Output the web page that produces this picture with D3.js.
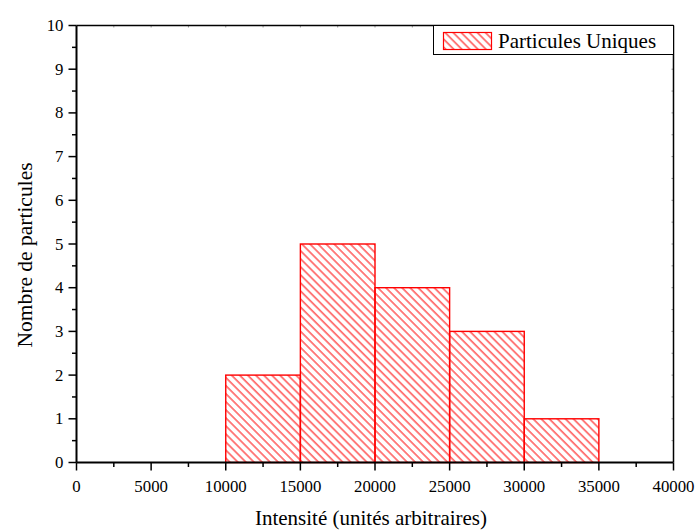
<!DOCTYPE html>
<html>
<head>
<meta charset="utf-8">
<script src="https://cdn.jsdelivr.net/npm/d3@7"></script>
<style>
  body { margin: 0; background: #fff; }
  svg text { font-family: "Liberation Serif", "Times New Roman", serif; fill: #000; }
</style>
</head>
<body>
<div id="chart"></div>
<script>
// histogram bins (intensity) and counts
var binStart = [10000, 15000, 20000, 25000, 30000];
var binEnd   = [15000, 20000, 25000, 30000, 35000];
var counts   = [2, 5, 4, 3, 1];
var xTicks = [0, 5000, 10000, 15000, 20000, 25000, 30000, 35000, 40000];
var yTicks = [0, 1, 2, 3, 4, 5, 6, 7, 8, 9, 10];
var seriesName = "Particules Uniques";

var W = 697, H = 530;
// plot frame ("top" is a reserved window prop, so prefix)
var pLeft = 76.5, pRight = 673.5, pTop = 25.5, pBottom = 462.5;

var svg = d3.select("#chart").append("svg")
    .attr("width", W)
    .attr("height", H);

var x = d3.scaleLinear().domain([0, 40000]).range([pLeft, pRight]);
var y = d3.scaleLinear().domain([0, 10]).range([pBottom, pTop]);

// hatch pattern
var defs = svg.append("defs");
defs.append("pattern")
    .attr("id", "hatch")
    .attr("patternUnits", "userSpaceOnUse")
    .attr("width", 5.7)
    .attr("height", 5.7)
    .attr("patternTransform", "rotate(-45)")
  .append("line")
    .attr("x1", 1).attr("y1", 0)
    .attr("x2", 1).attr("y2", 5.7)
    .attr("stroke", "#ff0000")
    .attr("stroke-width", 1);

// bars
svg.selectAll(".bar")
    .data(counts)
    .enter().append("rect")
    .attr("class", "bar")
    .attr("x", function (d, i) { return x(binStart[i]); })
    .attr("y", function (d) { return y(d); })
    .attr("width", function (d, i) { return x(binEnd[i]) - x(binStart[i]); })
    .attr("height", function (d) { return y(0) - y(d); })
    .attr("fill", "url(#hatch)")
    .attr("stroke", "#ff0000")
    .attr("stroke-width", 1.4);

// minor tick values
var xMinor = d3.range(2500, 40000, 5000);
var yMinor = d3.range(0.5, 10, 1);

// bottom axis
var gx = svg.append("g").attr("transform", "translate(0," + pBottom + ")");
gx.selectAll(".maj").data(xTicks).enter().append("line")
    .attr("x1", function (d) { return x(d); }).attr("x2", function (d) { return x(d); })
    .attr("y1", 0).attr("y2", 8)
    .attr("stroke", "#000").attr("stroke-width", 1.5);
gx.selectAll(".min").data(xMinor).enter().append("line")
    .attr("x1", function (d) { return x(d); }).attr("x2", function (d) { return x(d); })
    .attr("y1", 0).attr("y2", 4.5)
    .attr("stroke", "#000").attr("stroke-width", 1.5);
gx.selectAll("text").data(xTicks).enter().append("text")
    .attr("x", function (d) { return x(d); })
    .attr("y", 29)
    .attr("text-anchor", "middle")
    .attr("font-size", 16.8)
    .text(function (d) { return d; });

// left axis
var gy = svg.append("g").attr("transform", "translate(" + pLeft + ",0)");
gy.selectAll(".maj").data(yTicks).enter().append("line")
    .attr("y1", function (d) { return y(d); }).attr("y2", function (d) { return y(d); })
    .attr("x1", 0).attr("x2", -8)
    .attr("stroke", "#000").attr("stroke-width", 1.5);
gy.selectAll(".min").data(yMinor).enter().append("line")
    .attr("y1", function (d) { return y(d); }).attr("y2", function (d) { return y(d); })
    .attr("x1", 0).attr("x2", -4.5)
    .attr("stroke", "#000").attr("stroke-width", 1.5);
gy.selectAll("text").data(yTicks).enter().append("text")
    .attr("x", -13)
    .attr("y", function (d) { return y(d) + 5.5; })
    .attr("text-anchor", "end")
    .attr("font-size", 16.8)
    .text(function (d) { return d; });

// top and right mirror ticks (inward, faint)
svg.selectAll(".tmaj").data(xTicks.concat(xMinor)).enter().append("line")
    .attr("x1", function (d) { return x(d); }).attr("x2", function (d) { return x(d); })
    .attr("y1", pTop).attr("y2", pTop + 2)
    .attr("stroke", "#999").attr("stroke-width", 1);
svg.selectAll(".rmaj").data(yTicks.concat(yMinor)).enter().append("line")
    .attr("y1", function (d) { return y(d); }).attr("y2", function (d) { return y(d); })
    .attr("x1", pRight).attr("x2", pRight - 2)
    .attr("stroke", "#999").attr("stroke-width", 1);

// frame
svg.append("line").attr("x1", pLeft).attr("x2", pRight).attr("y1", pTop).attr("y2", pTop)
    .attr("stroke", "#000").attr("stroke-width", 1.5);
svg.append("line").attr("x1", pRight).attr("x2", pRight).attr("y1", pTop).attr("y2", pBottom)
    .attr("stroke", "#000").attr("stroke-width", 1.5);
svg.append("line").attr("x1", pLeft).attr("x2", pRight).attr("y1", pBottom).attr("y2", pBottom)
    .attr("stroke", "#000").attr("stroke-width", 2);
svg.append("line").attr("x1", pLeft).attr("x2", pLeft).attr("y1", pTop).attr("y2", pBottom)
    .attr("stroke", "#000").attr("stroke-width", 2);

// legend
var lg = svg.append("g");
lg.append("rect")
    .attr("x", 433.5).attr("y", pTop)
    .attr("width", pRight - 433.5).attr("height", 29)
    .attr("fill", "#fff").attr("stroke", "#000").attr("stroke-width", 1);
lg.append("rect")
    .attr("x", 443.5).attr("y", 32.5)
    .attr("width", 48).attr("height", 17)
    .attr("fill", "url(#hatch)")
    .attr("stroke", "#ff0000").attr("stroke-width", 1.2);
lg.append("text")
    .attr("x", 498).attr("y", 48)
    .attr("font-size", 21)
    .text(seriesName);

// axis titles
svg.append("text")
    .attr("x", 371)
    .attr("y", 525)
    .attr("text-anchor", "middle")
    .attr("font-size", 21)
    .text("Intensité (unités arbitraires)");
svg.append("text")
    .attr("transform", "translate(32,255) rotate(-90)")
    .attr("text-anchor", "middle")
    .attr("font-size", 21.5)
    .text("Nombre de particules");
</script>
</body>
</html>
